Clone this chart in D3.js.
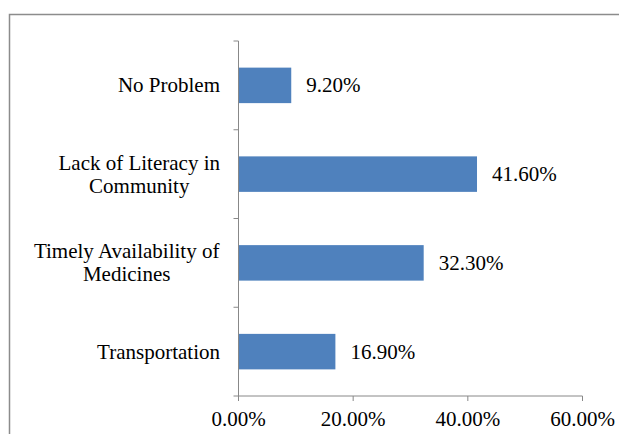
<!DOCTYPE html>
<html>
<head>
<meta charset="utf-8">
<script src="https://cdn.jsdelivr.net/npm/d3@7"></script>
</head>
<body style="margin:0">
<svg id="chart" style="display:block"></svg>
<script>
// Data (top to bottom as shown)
var categories = [
  ["No Problem"],
  ["Lack of Literacy in", "Community"],
  ["Timely Availability of", "Medicines"],
  ["Transportation"]
];
var values = [9.2, 41.6, 32.3, 16.9];
var xTicks = [0, 20, 40, 60];

var width = 619, height = 434;
var fontSize = 21;
var serif = "'Liberation Serif', Tinos, 'Times New Roman', serif";

var svg = d3.select("#chart")
    .attr("width", width)
    .attr("height", height);

// outer border (runs off the right/bottom edge)
svg.append("path")
    .attr("d", "M619,14.5H9.5V434")
    .style("fill", "none")
    .style("stroke", "#8c8c8c")
    .style("stroke-width", 1.5);

var x = d3.scaleLinear().domain([0, 60]).range([238.5, 582.5]);
var y = d3.scaleBand()
    .domain(d3.range(categories.length))
    .range([41, 396])
    .paddingInner(0.6)
    .paddingOuter(0.3);

// bars
svg.selectAll("rect.bar")
    .data(values)
    .enter().append("rect")
    .attr("class", "bar")
    .attr("x", x(0))
    .attr("y", function (d, i) { return y(i); })
    .attr("width", function (d) { return x(d) - x(0); })
    .attr("height", y.bandwidth())
    .style("fill", "#4f81bd");

// value labels
svg.selectAll("text.val")
    .data(values)
    .enter().append("text")
    .attr("class", "val")
    .attr("x", function (d) { return x(d) + 15; })
    .attr("y", function (d, i) { return y(i) + y.bandwidth() / 2 + 7; })
    .style("font-family", serif)
    .style("font-size", fontSize + "px")
    .text(function (d) { return d.toFixed(2) + "%"; });

// x axis (drawn by hand so no sans-serif is inherited)
var xa = svg.append("g");
xa.append("path")
    .attr("d", "M" + x(0) + ",401V396H" + x(60) + "V401")
    .style("fill", "none").style("stroke", "#888");
xa.selectAll("line")
    .data(xTicks)
    .enter().append("line")
    .attr("x1", function (d) { return x(d); }).attr("x2", function (d) { return x(d); })
    .attr("y1", 396).attr("y2", 401)
    .style("stroke", "#888");
xa.selectAll("text")
    .data(xTicks)
    .enter().append("text")
    .attr("x", function (d) { return x(d); })
    .attr("y", 426)
    .attr("text-anchor", "middle")
    .style("font-family", serif)
    .style("font-size", fontSize + "px")
    .text(function (d) { return d.toFixed(2) + "%"; });

// y axis: separators between categories
var step = (396 - 41) / categories.length;
svg.append("line")
    .attr("x1", x(0)).attr("x2", x(0))
    .attr("y1", 41).attr("y2", 396)
    .style("stroke", "#888");
svg.selectAll("line.tk")
    .data(d3.range(categories.length + 1))
    .enter().append("line")
    .attr("class", "tk")
    .attr("x1", x(0) - 5).attr("x2", x(0))
    .attr("y1", function (d) { return 41 + d * step; })
    .attr("y2", function (d) { return 41 + d * step; })
    .style("stroke", "#888");

// category labels: lines centred within a block right-aligned near the axis
var ctx = document.createElement("canvas").getContext("2d");
ctx.font = fontSize + "px " + serif;
var lineH = 23;
var labelRight = 220;
categories.forEach(function (lines, i) {
  var cy = y(i) + y.bandwidth() / 2 + 7;
  var maxW = d3.max(lines, function (l) { return ctx.measureText(l).width; });
  lines.forEach(function (l, j) {
    svg.append("text")
        .attr("x", labelRight - maxW / 2)
        .attr("y", cy + (j - (lines.length - 1) / 2) * lineH)
        .attr("text-anchor", "middle")
        .style("font-family", serif)
        .style("font-size", fontSize + "px")
        .text(l);
  });
});
</script>
</body>
</html>
